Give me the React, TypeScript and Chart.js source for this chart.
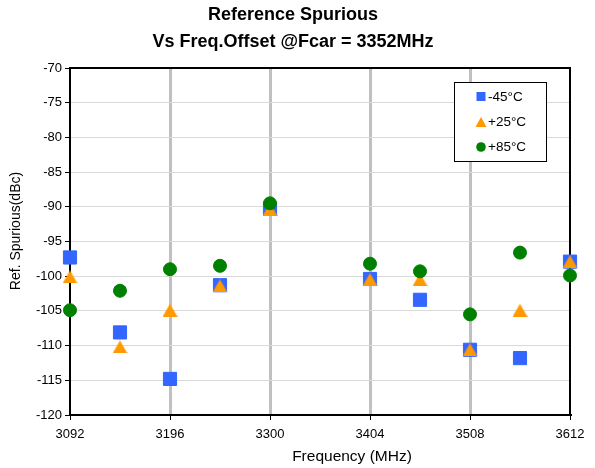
import React, { useEffect, useRef } from 'react';
import { Chart, registerables } from 'chart.js';

Chart.register(...registerables);

const TITLE_LINES = ['Reference Spurious', 'Vs Freq.Offset @Fcar = 3352MHz'];
const X_TITLE = 'Frequency (MHz)';
const Y_TITLE = 'Ref. Spurious(dBc)';
const FREQUENCIES = [3092, 3144, 3196, 3248, 3300, 3404, 3456, 3508, 3560, 3612];
const SERIES_NAMES = ['-45°C', '+25°C', '+85°C'];
const COLD = [-97.3, -108.1, -114.8, -101.3, -90.3, -100.4, -103.4, -110.6, -111.8, -97.9];
const ROOM = [-100.1, -110.2, -104.9, -101.4, -90.4, -100.5, -100.5, -110.6, -104.9, -97.9];
const HOT = [-104.9, -102.1, -99.0, -98.5, -89.5, -98.2, -99.3, -105.5, -96.6, -99.9];
const X_TICKS = [3092, 3196, 3300, 3404, 3508, 3612];
const Y_MIN = -120;
const Y_MAX = -70;
const Y_STEP = 5;

const BLUE = '#3366FF';
const ORANGE = '#FF9900';
const GREEN = '#008000';
const FONT = '"Liberation Sans", Arial, sans-serif';

function makeTriangle(w: number, h: number, color: string): HTMLCanvasElement {
  const c = document.createElement('canvas');
  c.width = w;
  c.height = h;
  const g = c.getContext('2d')!;
  g.fillStyle = color;
  g.beginPath();
  g.moveTo(w / 2, 0);
  g.lineTo(w, h);
  g.lineTo(0, h);
  g.closePath();
  g.fill();
  return c;
}

const toPoints = (vals: number[]) => FREQUENCIES.map((x, i) => ({ x, y: vals[i] }));

const overlayPlugin = {
  id: 'overlay',
  beforeDatasetsDraw(chart: any) {
    const { ctx, chartArea: a } = chart;
    ctx.save();
    ctx.strokeStyle = '#000';
    ctx.lineWidth = 2;
    ctx.beginPath();
    ctx.moveTo(a.left - 1, a.top);
    ctx.lineTo(a.right, a.top);
    ctx.lineTo(a.right, a.bottom + 1);
    ctx.stroke();
    ctx.restore();
  },
  afterDraw(chart: any) {
    const { ctx } = chart;
    ctx.save();
    ctx.fillStyle = '#000';
    ctx.font = `15.5px ${FONT}`;
    ctx.textAlign = 'center';
    ctx.textBaseline = 'alphabetic';
    ctx.fillText(X_TITLE, 352, 461);
    ctx.save();
    ctx.font = `14px ${FONT}`;
    ctx.translate(20, 231);
    ctx.rotate(-Math.PI / 2);
    ctx.fillText(Y_TITLE, 0, 0);
    ctx.restore();

    const bx = 454.5, by = 82.5, bw = 92, bh = 79;
    ctx.fillStyle = '#fff';
    ctx.fillRect(bx, by, bw, bh);
    ctx.strokeStyle = '#000';
    ctx.lineWidth = 1;
    ctx.strokeRect(bx, by, bw, bh);
    const rows = [96.5, 122, 147];
    const mx = 481;
    ctx.fillStyle = BLUE;
    ctx.fillRect(mx - 4.5, rows[0] - 4.5, 9, 9);
    ctx.fillStyle = ORANGE;
    ctx.beginPath();
    ctx.moveTo(mx, rows[1] - 5);
    ctx.lineTo(mx + 5.5, rows[1] + 5);
    ctx.lineTo(mx - 5.5, rows[1] + 5);
    ctx.closePath();
    ctx.fill();
    ctx.fillStyle = GREEN;
    ctx.beginPath();
    ctx.arc(mx, rows[2], 4.8, 0, Math.PI * 2);
    ctx.fill();
    ctx.fillStyle = '#000';
    ctx.font = `13.5px ${FONT}`;
    ctx.textAlign = 'left';
    ctx.textBaseline = 'middle';
    SERIES_NAMES.forEach((n, i) => ctx.fillText(n, 488, rows[i] + 0.5));
    ctx.restore();
  },
};

export default function App() {
  const ref = useRef<HTMLCanvasElement | null>(null);
  useEffect(() => {
    if (!ref.current) return;
    const tri = makeTriangle(15, 13, ORANGE);
    const chart = new Chart(ref.current, {
      type: 'scatter',
      data: {
        datasets: [
          {
            label: SERIES_NAMES[0],
            data: toPoints(COLD),
            pointStyle: 'rect',
            pointRadius: 9.3,
            pointBorderWidth: 1,
            backgroundColor: BLUE,
            borderColor: BLUE,
            order: 3,
            clip: false,
          } as any,
          {
            label: SERIES_NAMES[1],
            data: toPoints(ROOM),
            pointStyle: tri,
            pointRadius: 7,
            backgroundColor: ORANGE,
            borderColor: ORANGE,
            order: 2,
            clip: false,
          } as any,
          {
            label: SERIES_NAMES[2],
            data: toPoints(HOT),
            pointStyle: 'circle',
            pointRadius: 6.5,
            pointBorderWidth: 1,
            backgroundColor: GREEN,
            borderColor: GREEN,
            order: 1,
            clip: false,
          } as any,
        ],
      },
      options: {
        responsive: false,
        animation: false,
        events: [],
        layout: { padding: { left: 16, right: 25, top: 0, bottom: 0 } },
        plugins: {
          legend: { display: false },
          tooltip: { enabled: false },
          title: {
            display: true,
            text: TITLE_LINES,
            color: '#000',
            font: { family: FONT, size: 18, weight: 'bold', lineHeight: 1.5 },
            padding: { top: 2, bottom: 12 },
          },
        },
        scales: {
          x: {
            type: 'linear',
            min: X_TICKS[0],
            max: X_TICKS[X_TICKS.length - 1],
            afterBuildTicks: (s: any) => {
              s.ticks = X_TICKS.map((v) => ({ value: v }));
            },
            afterFit: (s: any) => {
              s.height = 53;
            },
            ticks: {
              color: '#000',
              font: { family: FONT, size: 13 },
              padding: 7,
              maxRotation: 0,
              autoSkip: false,
              callback: (v: any) => String(v),
            },
            grid: {
              color: (c: any) =>
                c.tick && (c.tick.value === X_TICKS[0] || c.tick.value === X_TICKS[X_TICKS.length - 1])
                  ? 'rgba(0,0,0,0)'
                  : '#c0c0c0',
              lineWidth: 3,
              tickColor: '#000',
              tickWidth: 1,
              tickLength: 5,
            },
            border: { color: '#000', width: 2 },
          },
          y: {
            type: 'linear',
            min: Y_MIN,
            max: Y_MAX,
            afterFit: (s: any) => {
              s.width = 54;
            },
            ticks: {
              stepSize: Y_STEP,
              color: '#000',
              font: { family: FONT, size: 13 },
              padding: 3,
            },
            grid: {
              color: '#d9d9d9',
              lineWidth: 1,
              tickColor: '#000',
              tickWidth: 1,
              tickLength: 5,
            },
            border: { color: '#000', width: 2 },
          },
        },
      },
      plugins: [overlayPlugin],
    } as any);
    return () => chart.destroy();
  }, []);
  return (
    <div style={{ position: 'absolute', left: 0, top: 0, width: 595, height: 468, background: '#fff' }}>
      <canvas ref={ref} width={595} height={468} style={{ display: 'block' }} />
    </div>
  );
}
